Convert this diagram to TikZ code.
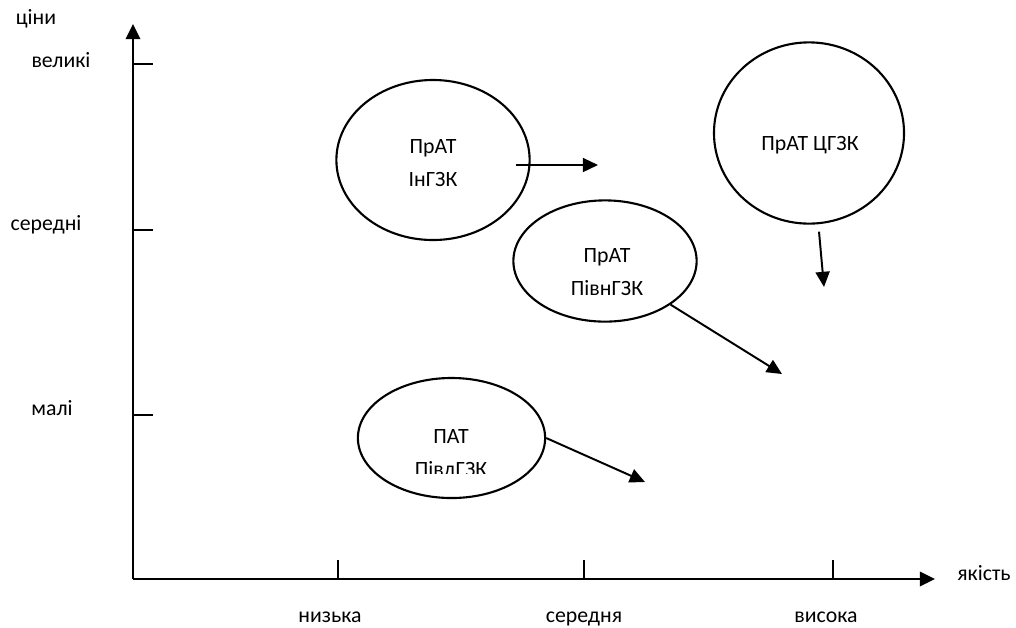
\documentclass[tikz,border=0pt]{standalone}
\usepackage{fontspec}
\setmainfont{Carlito}
\usepackage{tikz}
\usetikzlibrary{shapes.geometric, arrows.meta, positioning, calc}

\tikzset{
  lbl/.style={font=\fontsize{15.5}{23.4}\selectfont, inner sep=0pt},
  axlbl/.style={lbl, anchor=base},
  firm/.style={draw, ellipse, line width=1.5pt, inner sep=0pt},
  move/.style={-{Triangle[length=3.8mm,width=3.5mm]}, line width=1.4pt},
  axis/.style={-{Triangle[length=3.8mm,width=3.6mm]}, line width=1.8pt}
}

\begin{document}
\begin{tikzpicture}[x=0.025cm, y=-0.025cm]
\useasboundingbox (0,0) rectangle (1016,627);

% Axes
\coordinate (O) at (133,579);
\coordinate (ytip) at (133,24);
\coordinate (xtip) at (935,579);
\draw[axis] (O) -- (ytip);
\draw[axis] (O) -- (xtip);
\foreach \y in {64,230,415} {
    \draw[line width=1.5pt] (133,\y) -- (153,\y);
}
\foreach \x in {338,584,833} {
    \draw[line width=1.5pt] (\x,579) -- (\x,560);
}

\node[axlbl] (price) at (36,24) {ціни};
\node[axlbl] (high) at (61,67) {великі};
\node[axlbl] (mid) at (46,230) {середні};
\node[axlbl] (low) at (52,415) {малі};
\node[axlbl] (quality) at (984,580) {якість};
\node[axlbl] (qlow) at (330,622) {низька};
\node[axlbl] (qmid) at (584,622) {середня};
\node[axlbl] (qhigh) at (826,622) {висока};

% Firms
\node[firm, minimum width=4.83cm, minimum height=4cm] (ing) at (433,160) {};
\node[lbl, align=center] (ing-t) at (433,163) {ПрАТ\\ІнГЗК};

\node[firm, minimum width=4.75cm, minimum height=4.53cm] (cgzk) at (809,133) {};
\node[lbl] (cgzk-t) at (810,145) {ПрАТ ЦГЗК};

\node[firm, minimum width=4.58cm, minimum height=3.03cm] (pivn) at (605,261) {};
\node[lbl, align=center] (pivn-t) at (607,272) {ПрАТ\\ПівнГЗК};

\node[firm, minimum width=4.68cm, minimum height=3cm] (pivd) at (451.5,438) {};
\begin{scope}
\clip (300,300) rectangle (700,473);
\node[lbl, align=center] (pivd-t) at (451,455) {ПАТ\\ПівдГЗК};
\end{scope}

% Shifts
\coordinate (ing-to) at (598,165);
\coordinate (cgzk-to) at (824,287);
\coordinate (pivn-to) at (782,374);
\coordinate (pivd-to) at (645,482);
\draw[move] ($(ing.east)+(-15,5)$) -- (ing-to);
\draw[move] ($(cgzk.south)+(10,7)$) -- (cgzk-to);
\draw[move] (pivn.south east) -- (pivn-to);
\draw[move] (pivd.east) -- (pivd-to);
\end{tikzpicture}
\end{document}
